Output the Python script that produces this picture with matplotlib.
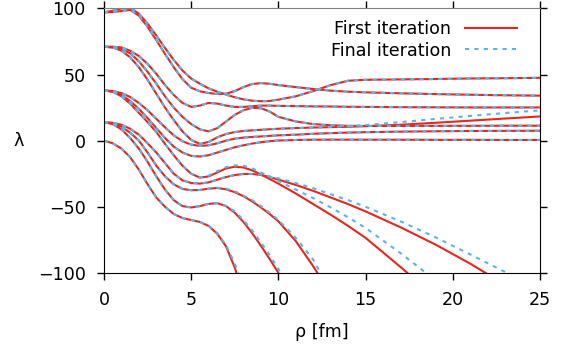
import matplotlib
matplotlib.use("Agg")
import matplotlib.pyplot as plt

# shared rho grid [fm]
rho = [0, 0.5, 1, 1.5, 2, 2.5, 3, 3.5, 4, 4.5, 5, 5.5, 6, 6.5, 7, 7.5, 8, 8.5, 9, 9.5,
       10, 11, 12, 13, 14, 15, 17, 19, 21, 23, 25]

# curves that look the same in both iterations
lam_P = [97, 98.2, 100, 100.5, 96, 88.5, 79.5, 70, 61, 53, 47, 43, 39.5, 37, 34.8, 32.8,
         31.2, 30.2, 29.8, 30, 31, 33.5, 37.5, 42, 45.3, 46, 46.3, 46.6, 47, 47.2, 47.5]
lam_Q = [97, 97.2, 98, 98.8, 94.5, 86, 76, 65.5, 55.5, 46.5, 40, 37.3, 36, 35.3, 35.5, 37.5,
         40.5, 42.8, 43.5, 43, 42, 40.5, 39, 37.8, 37, 36.5, 35.8, 35.2, 34.7, 34.3, 34]
lam_R = [71, 71, 70.5, 68, 64, 58, 50.5, 42, 34.5, 28.5, 25.5, 26.5, 28.5, 28, 26.5, 25.5,
         25.5, 26, 26.5, 26.5, 26.3, 26.1, 25.9, 25.8, 25.6, 25.5, 25.3, 25.2, 25.1, 25.1, 25.1]
lam_S = [71, 70.5, 69.5, 66, 60, 52, 43, 33.5, 25, 18, 12.5, 8.5, 7, 9.5, 14.5, 19.5,
         23, 24.8, 24.5, 22, 18, 14.5, 12.5, 11.6, 11.2, 11.1, 11.1, 11.2, 11.2, 11.3, 11.3]
lam_Z1 = [38, 37.5, 36, 33, 28.5, 23, 16.5, 10, 4, -0.5, -3, -4, -3.5, -2, 0, 1.5,
          2.3, 2.8, 3.2, 3.6, 4, 4.5, 5.2, 5.7, 6.1, 6.4, 6.8, 7.1, 7.3, 7.4, 7.5]
lam_Z2 = [38, 37, 34.5, 30, 24, 17, 9.5, 2, -4.5, -9, -11.5, -12, -11, -9, -7, -5,
          -3.5, -2.2, -1.2, -0.4, 0.1, 0.5, 0.7, 0.75, 0.75, 0.7, 0.7, 0.6, 0.6, 0.5, 0.5]

# curves where first and final iteration differ
lam_Y_first = [71, 70.5, 68, 63, 55.5, 46, 35.5, 25, 15.5, 7, 0.5, -2.5, -1, 2.5, 5, 6.5,
               7.3, 7.8, 8.2, 8.6, 9, 9.5, 9.9, 10.2, 10.5, 10.9, 12, 13.5, 15.1, 16.7, 18.3]
lam_Y_final = [71, 70.5, 68, 63, 55.5, 46, 35.5, 25, 15.5, 7, 0.5, -2.5, -1, 2.5, 5, 6.5,
               7.3, 7.8, 8.2, 8.6, 9, 9.5, 9.9, 10.4, 11, 11.8, 14, 16.4, 18.7, 20.9, 22.9]
lam_T_first = [38, 37, 33.5, 28, 21, 14, 6.5, -2.5, -11, -19, -25, -28, -27, -24, -21, -19.7,
               -20.3, -22.5, -25.5, -29, -32.5, -40, -48, -56, -64.5, -73.5, -95.5, -118]
lam_T_final = [38, 37, 33.5, 28, 21, 14, 6.5, -2.5, -11, -19, -25, -27.8, -26.5, -23, -20, -18.7,
               -19, -21, -24, -27.3, -30.5, -37, -43.5, -50.5, -58, -66, -85, -105.5]
lam_U_first = [14, 13.5, 12, 9, 4.5, -2, -9, -17, -25, -30, -32, -32.5, -31.5, -29.5, -27.5, -26,
               -25.2, -25.2, -26, -27.5, -29.5, -33.5, -38, -43, -48, -53.5, -65.5, -78.5, -93, -109]
lam_U_final = [14, 13.5, 12, 9, 4.5, -2, -9, -17, -25, -30, -32, -32.5, -31.5, -29.5, -27.5, -26,
               -25.2, -25.2, -25.8, -27, -28.5, -32, -36, -40.5, -45, -50, -61, -73, -86, -99.3, -116]
lam_V_first = [14, 13, 10.5, 6, 0, -9, -19, -27, -33, -36.5, -37.5, -37.3, -36.3, -35.8, -36.8, -39,
               -42, -46, -50.5, -55.5, -61, -76, -95, -116]
lam_V_final = [14, 13, 10.5, 6, 0, -9, -19, -27, -33, -36.5, -37.5, -37.3, -36.3, -35.6, -36.3, -38.3,
               -41.5, -45, -49.5, -54.5, -60, -73.5, -90, -114]
lam_W_first = [14, 12.5, 8.5, 2, -6, -16, -27, -37, -45, -49.5, -50.5, -49.5, -47.8, -47.3, -49.5, -54.5,
               -61.5, -70, -79.5, -89.5, -100, -125]
lam_W_final = [14, 12.5, 8.5, 2, -6, -16, -27, -37, -45, -49.5, -50.5, -49.5, -47.8, -47.3, -49.3, -53.5,
               -60, -68, -77, -86.5, -97, -120]
lam_X_first = [0, -2, -6, -12.5, -22, -33, -43, -50, -55.5, -58.5, -60, -61.5, -64.5, -70.5, -80, -96, -118]
lam_X_final = [0, -2, -6, -12.5, -22, -33, -43, -50, -55.5, -58.5, -60, -61.5, -64.3, -70, -79, -93, -111]

first_curves = [lam_P, lam_Q, lam_R, lam_S, lam_Y_first, lam_Z1, lam_Z2,
                lam_T_first, lam_U_first, lam_V_first, lam_W_first, lam_X_first]
final_curves = [lam_P, lam_Q, lam_R, lam_S, lam_Y_final, lam_Z1, lam_Z2,
                lam_T_final, lam_U_final, lam_V_final, lam_W_final, lam_X_final]

RED = "#e8261c"
BLUE = "#5ab4ea"
FS = 12.6

fig = plt.figure(figsize=(5.81, 3.49), dpi=100)
ax = fig.add_axes([0.179, 0.218, 0.7504, 0.758])

for i, lam in enumerate(first_curves):
    ax.plot(rho[:len(lam)], lam, color=RED, lw=1.5,
            label="First iteration" if i == 0 else None)
for i, lam in enumerate(final_curves):
    ax.plot(rho[:len(lam)], lam, color=BLUE, lw=1.5, linestyle=(0, (2, 2.5)),
            label="Final iteration" if i == 0 else None)

ax.set_xlim(0, 25)
ax.set_ylim(-100, 100)
ax.set_xticks([0, 5, 10, 15, 20, 25])
ax.set_yticks([-100, -50, 0, 50, 100])
ax.tick_params(direction="out", length=5, width=1, top=True, right=True,
               labelsize=FS, pad=8, colors="black")
for side in ["left", "right", "bottom"]:
    ax.spines[side].set_color("black")
ax.spines["top"].set_color("#808080")

ax.set_xlabel("ρ [fm]", fontsize=FS, labelpad=10)
ax.set_ylabel("λ", fontsize=FS, rotation=0, ha="center", va="center")
ax.yaxis.set_label_coords(-0.197, 0.5)

ax.legend(loc="upper right", bbox_to_anchor=(517 / 581, 1 - 20 / 349),
          bbox_transform=fig.transFigure, frameon=False, markerfirst=False,
          fontsize=FS, handlelength=3, handletextpad=0.75, labelspacing=0.2,
          borderpad=0, borderaxespad=0)

fig.savefig("out.png", dpi=100)
